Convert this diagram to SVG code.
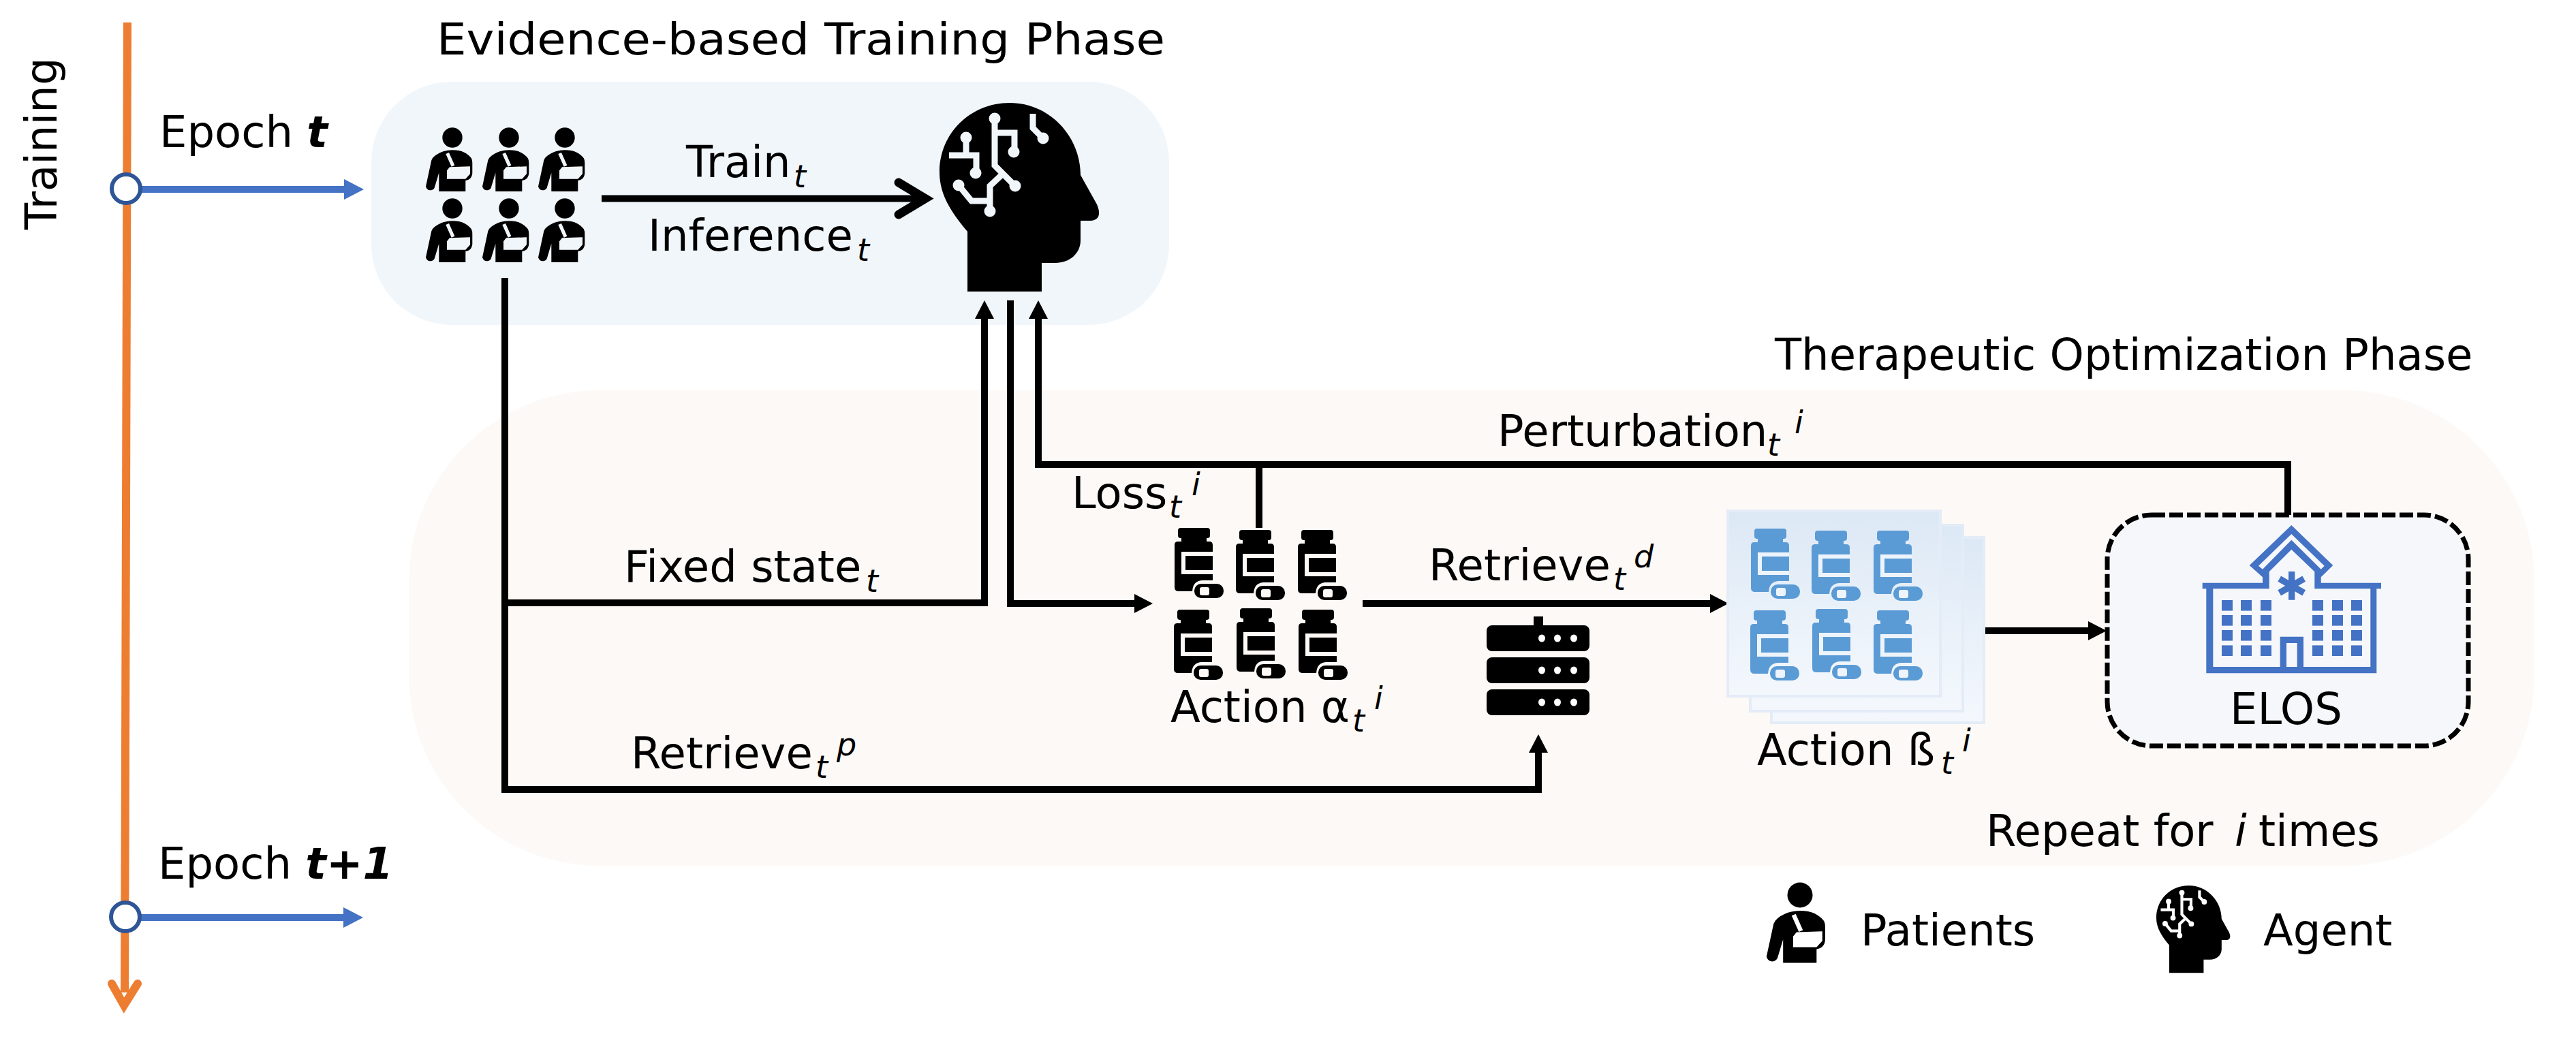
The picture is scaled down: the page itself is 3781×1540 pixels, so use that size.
<svg xmlns="http://www.w3.org/2000/svg" xmlns:xlink="http://www.w3.org/1999/xlink" width="3781" height="1540" viewBox="0 0 3781 1540">
<style>
text{font-family:"DejaVu Sans","Liberation Sans",sans-serif;font-size:64px;fill:#000}
.it{font-style:italic}
.sm{font-size:46px;font-style:italic}
.line{fill:none;stroke:#000;stroke-width:10}
.blueline{fill:none;stroke:#4472C4;stroke-width:10}
.node{fill:#fff;stroke:#2F5597;stroke-width:6}
.hb{fill:#4472C4}
.sheet{fill:url(#sheetGrad);stroke:#E3ECF7;stroke-width:4}
.win{fill:#4472C4}
.srv{fill:#000}
.dot{fill:#fff}
</style>
<defs>
<marker id="ah" markerUnits="userSpaceOnUse" markerWidth="28" markerHeight="30" viewBox="0 0 28 30" refX="0" refY="15" orient="auto"><path d="M0,1 L27,15 L0,29 Z" fill="#000"/></marker>
<marker id="ahb" markerUnits="userSpaceOnUse" markerWidth="30" markerHeight="32" viewBox="0 0 30 32" refX="0" refY="16" orient="auto"><path d="M0,1 L29,16 L0,31 Z" fill="#4472C4"/></marker>
<linearGradient id="sheetGrad" x1="0" y1="0" x2="0" y2="1"><stop offset="0" stop-color="#DCE8F5"/><stop offset="1" stop-color="#F4F8FD"/></linearGradient>
<g id="patient">
<ellipse cx="0" cy="0" rx="14.7" ry="14.7"/>
<path d="M0,18.3 C14,18.3 22,23 27.7,30 Q29.5,33 29.3,38 V52 C29,58 26,62 19.3,63 V79 H-19.7 V51.7 L-25.7,71.7 C-27,79 -37,79.5 -39,71.7 L-30.7,33.3 Q-29,29 -25.7,26.7 C-18,21 -9,18.3 0,18.3 Z"/>
<path d="M-4,43.3 L26,42.3 V53.3 L19.3,60.7 H-8 V48.3 Z M-9.7,24 L-5,22 L3.4,40.8 L-1.3,42.8 Z" style="fill:currentColor"/>
</g>
<g id="bottle">
<rect x="5" y="0" width="47" height="15" rx="4"/>
<rect x="10" y="14" width="37" height="8"/>
<path d="M5,20 H51 Q56,20 56,25 V77 H40 Q27,78 26,93 H6 Q0,93 0,87 V25 Q0,20 5,20 Z"/>
<rect x="10" y="35" width="46" height="33" style="fill:currentColor"/>
<rect x="16" y="41" width="40" height="21"/>
<rect x="29" y="82" width="43" height="21" rx="10"/>
<rect x="37" y="87" width="14" height="12" rx="3" style="fill:currentColor"/>
</g>
<g id="head">
<path d="M1420,428 V340 C1395,310 1379,285 1379,253 C1379,195 1425,151 1482,151 C1540,151 1586,200 1586,257 L1610,300 Q1620,324 1598,324 H1586 V353 C1586,372 1570,386 1549,386 H1529 V428 Z"/>
<g style="fill:none;stroke:currentColor;stroke-width:9">
<path d="M1460,174 V243 L1490,273 M1460,195 H1489 V223 M1418,202 V228 M1393,228 H1433 V254 M1407,272 L1426,295 H1453 M1453,310 V273 L1470,257 M1516,167 V188 L1531,203"/>
</g>
<g style="fill:currentColor">
<circle cx="1460" cy="174" r="8.5"/><circle cx="1488" cy="223" r="8.5"/><circle cx="1490" cy="273" r="8.5"/><circle cx="1418" cy="202" r="8.5"/><circle cx="1432" cy="254" r="8.5"/><circle cx="1407" cy="272" r="8.5"/><circle cx="1453" cy="310" r="8.5"/><circle cx="1531" cy="203" r="8.5"/>
</g>
</g>
</defs>
<rect width="3781" height="1540" fill="#fff"/>
<g id="phase-backgrounds">
<rect x="545" y="120" width="1171" height="357" rx="118" ry="118" fill="#F1F6FB"/>
<rect x="600" y="573" width="3120" height="698" rx="280" ry="280" fill="#FDF9F6"/>
</g>
<g id="connectors">
<path d="M187,33 L183,1457" fill="none" stroke="#ED7D31" stroke-width="12"/>
<path d="M164,1444 L182,1476 L202,1444" fill="none" stroke="#ED7D31" stroke-width="12" stroke-linecap="round"/>
<path class="blueline" d="M207,278 H505" marker-end="url(#ahb)"/>
<path class="blueline" d="M205,1347 H504" marker-end="url(#ahb)"/>
<path class="line" d="M883,291.5 H1360"/>
<path class="line" stroke-linecap="round" d="M1319,268 L1358,291.5 L1319,315" style="stroke-width:13;stroke-linecap:round"/>
<path class="line" d="M741,408 V1159 H2258 V1105" marker-end="url(#ah)"/>
<path class="line" d="M741,885 H1445 V468" marker-end="url(#ah)"/>
<path class="line" d="M1483,441 V886 H1665" marker-end="url(#ah)"/>
<path class="line" d="M3358,757 V682 H1524 V468" marker-end="url(#ah)"/>
<path class="line" d="M1848,682 V775"/>
<path class="line" d="M2000,886 H2510" marker-end="url(#ah)"/>
<path class="line" d="M2910,926 H3065" marker-end="url(#ah)"/>
</g>
<g id="timeline-nodes">
<ellipse class="node" cx="185" cy="277" rx="21" ry="21"/>
<ellipse class="node" cx="184" cy="1346" rx="21" ry="21"/>
</g>
<g id="patients" style="color:#F1F6FB">
<use href="#patient" x="664" y="202"/><use href="#patient" x="747" y="202"/><use href="#patient" x="829" y="202"/>
<use href="#patient" x="664" y="306"/><use href="#patient" x="747" y="306"/><use href="#patient" x="829" y="306"/>
</g>
<g id="agent" style="color:#F1F6FB"><use href="#head"/></g>
<g id="actions-alpha" style="color:#FDF9F6">
<use href="#bottle" x="1724" y="775"/><use href="#bottle" x="1814" y="778"/><use href="#bottle" x="1905" y="778"/>
<use href="#bottle" x="1723" y="895"/><use href="#bottle" x="1815" y="893"/><use href="#bottle" x="1906" y="895"/>
</g>
<g id="server">
<rect class="srv" x="2251" y="905" width="14" height="16"/>
<rect class="srv" x="2182" y="918" width="151" height="38" rx="8"/>
<rect class="srv" x="2182" y="965" width="151" height="38" rx="8"/>
<rect class="srv" x="2182" y="1012" width="151" height="38" rx="8"/>
<g class="dot">
<ellipse cx="2263" cy="937" rx="5" ry="5.5"/><ellipse cx="2286" cy="937" rx="5" ry="5.5"/><ellipse cx="2310" cy="937" rx="5" ry="5.5"/>
<ellipse cx="2263" cy="984" rx="5" ry="5.5"/><ellipse cx="2286" cy="984" rx="5" ry="5.5"/><ellipse cx="2310" cy="984" rx="5" ry="5.5"/>
<ellipse cx="2263" cy="1031" rx="5" ry="5.5"/><ellipse cx="2286" cy="1031" rx="5" ry="5.5"/><ellipse cx="2310" cy="1031" rx="5" ry="5.5"/>
</g>
</g>
<g id="actions-beta" style="color:#EEF4FB;fill:#5B9BD5">
<rect class="sheet" x="2600" y="789" width="312" height="272"/>
<rect class="sheet" x="2569" y="771" width="312" height="273"/>
<rect class="sheet" x="2536" y="750" width="312" height="272"/>
<use href="#bottle" x="2570" y="776"/><use href="#bottle" x="2659" y="779"/><use href="#bottle" x="2750" y="779"/>
<use href="#bottle" x="2569" y="896"/><use href="#bottle" x="2660" y="894"/><use href="#bottle" x="2750" y="896"/>
</g>
<g id="elos">
<rect x="3093" y="756" width="530" height="339" rx="65" ry="65" fill="#F5F7FA" stroke="#000" stroke-width="7" stroke-dasharray="20 6"/>
<path class="hb" fill-rule="evenodd" d="M3363.3,771 L3424.3,830 L3406.7,847.3 V855.7 H3495 V864.3 H3488.3 V988.3 H3238.3 V864.3 H3232.7 V855.7 H3321 V847.3 L3301.7,830 Z M3248.3,864.3 H3330.7 V839.3 L3363.3,806.7 L3397.3,839.3 V864.3 H3479.3 V979 H3381 V934.7 H3346.7 V979 H3248.3 Z M3356,944 H3371.7 V979 H3356 Z M3315,830.7 L3363.3,784 L3411.7,830.7 L3406.7,835.7 L3363.3,792.7 L3321,835.7 Z"/>
<path d="M3363.7,839 V880.7 M3345.7,849.6 L3381.7,870.4 M3381.7,849.6 L3345.7,870.4" fill="none" stroke="#4472C4" stroke-width="9.3"/>
<g class="win">
<rect x="3261" y="881" width="16" height="15.6"/><rect x="3289" y="881" width="16" height="15.6"/><rect x="3318" y="881" width="16" height="15.6"/><rect x="3394" y="881" width="16" height="15.6"/><rect x="3423" y="881" width="16" height="15.6"/><rect x="3451" y="881" width="16" height="15.6"/>
<rect x="3261" y="903" width="16" height="15.6"/><rect x="3289" y="903" width="16" height="15.6"/><rect x="3318" y="903" width="16" height="15.6"/><rect x="3394" y="903" width="16" height="15.6"/><rect x="3423" y="903" width="16" height="15.6"/><rect x="3451" y="903" width="16" height="15.6"/>
<rect x="3261" y="925" width="16" height="15.6"/><rect x="3289" y="925" width="16" height="15.6"/><rect x="3318" y="925" width="16" height="15.6"/><rect x="3394" y="925" width="16" height="15.6"/><rect x="3423" y="925" width="16" height="15.6"/><rect x="3451" y="925" width="16" height="15.6"/>
<rect x="3261" y="947.4" width="16" height="15.6"/><rect x="3289" y="947.4" width="16" height="15.6"/><rect x="3318" y="947.4" width="16" height="15.6"/><rect x="3394" y="947.4" width="16" height="15.6"/><rect x="3423" y="947.4" width="16" height="15.6"/><rect x="3451" y="947.4" width="16" height="15.6"/>
</g>
<text x="3273" y="1063">ELOS</text>
</g>
<g id="legend-patient" style="color:#fff"><use href="#patient" transform="translate(2642 1314) scale(1.26)"/><text x="2731" y="1388">Patients</text></g>
<g id="legend-agent" style="color:#fff"><use href="#head" transform="translate(2526.5 1230) scale(.463)"/><text x="3322" y="1388">Agent</text></g>
<g id="labels">
<text x="641" y="80" textLength="1069" lengthAdjust="spacingAndGlyphs">Evidence-based Training Phase</text>
<text x="2605" y="543">Therapeutic Optimization Phase</text>
<text transform="translate(83 337) rotate(-90)">Training</text>
<text x="234" y="216">Epoch <tspan font-weight="bold" class="it">t</tspan></text>
<text x="232" y="1290">Epoch <tspan font-weight="bold" class="it">t+1</tspan></text>
<text x="1007" y="260">Train<tspan class="sm" x="1165" y="275">t</tspan></text>
<text x="951" y="368">Inference<tspan class="sm" x="1258" y="383">t</tspan></text>
<text x="916" y="854">Fixed state<tspan class="sm" x="1271" y="869">t</tspan></text>
<text x="2198" y="655">Perturbation<tspan class="sm" x="2594" y="669">t</tspan><tspan class="sm" x="2634" y="636">i</tspan></text>
<text x="1573" y="746">Loss<tspan class="sm" x="1716" y="760">t</tspan><tspan class="sm" x="1749" y="727">i</tspan></text>
<text x="2097" y="852">Retrieve<tspan class="sm" x="2368" y="866">t</tspan><tspan class="sm" x="2398" y="833">d</tspan></text>
<text x="1718" y="1060">Action α<tspan class="sm" x="1985" y="1074">t</tspan><tspan class="sm" x="2017" y="1041">i</tspan></text>
<text x="926" y="1128">Retrieve<tspan class="sm" x="1197" y="1142">t</tspan><tspan class="sm" x="1228" y="1109">p</tspan></text>
<text x="2579" y="1123">Action ß<tspan class="sm" x="2849" y="1136">t</tspan><tspan class="sm" x="2880" y="1103">i</tspan></text>
<text x="2915" y="1242">Repeat for <tspan class="it" x="3280">i</tspan><tspan x="3315">times</tspan></text>
</g>
</svg>
